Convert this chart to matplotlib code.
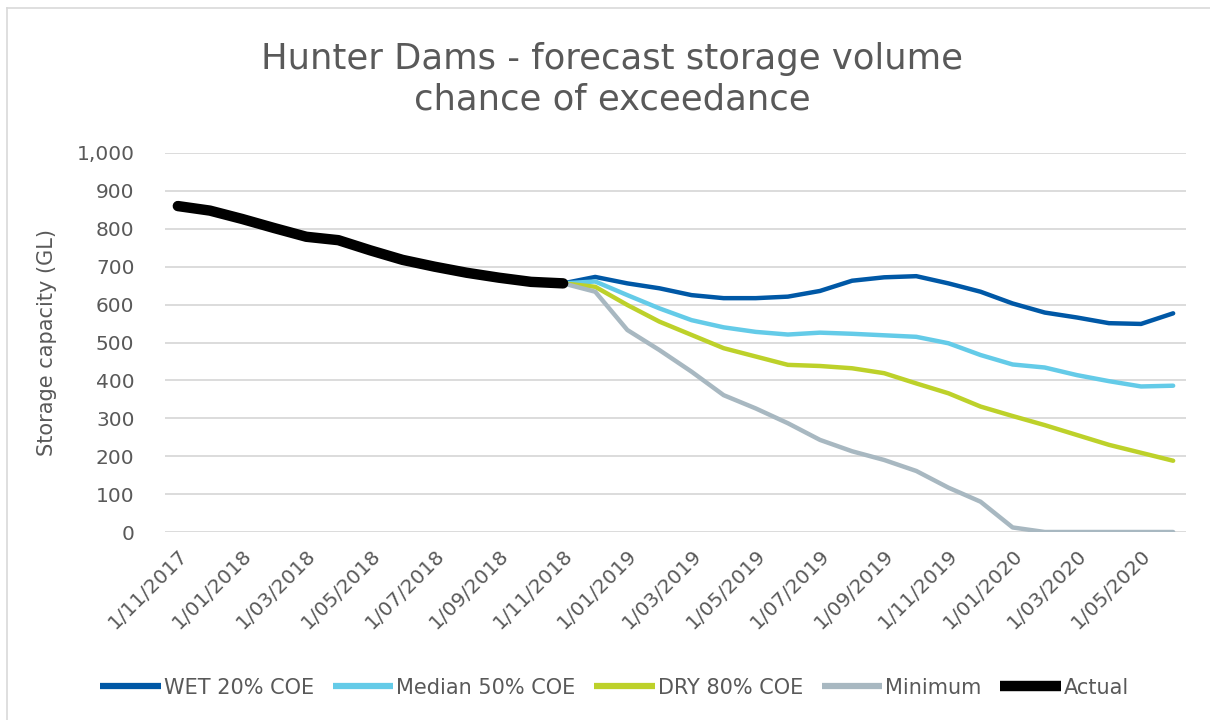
import matplotlib
matplotlib.use("Agg")
import matplotlib.pyplot as plt
from matplotlib.lines import Line2D

plt.rcParams['font.family'] = ['DejaVu Sans']

months = ["1/11/2017", "1/12/2017", "1/01/2018", "1/02/2018", "1/03/2018", "1/04/2018",
          "1/05/2018", "1/06/2018", "1/07/2018", "1/08/2018", "1/09/2018", "1/10/2018",
          "1/11/2018", "1/12/2018", "1/01/2019", "1/02/2019", "1/03/2019", "1/04/2019",
          "1/05/2019", "1/06/2019", "1/07/2019", "1/08/2019", "1/09/2019", "1/10/2019",
          "1/11/2019", "1/12/2019", "1/01/2020", "1/02/2020", "1/03/2020", "1/04/2020",
          "1/05/2020", "1/06/2020"]

actual = [860, 848, 826, 802, 779, 770, 743, 718, 700, 684, 671, 660, 656]

wet = [656, 673, 656, 643, 625, 617, 617, 621, 636, 663, 672, 675, 656, 634, 603, 579, 566, 551, 549, 577]
median = [656, 661, 625, 590, 559, 540, 528, 521, 526, 523, 519, 515, 498, 467, 442, 434, 414, 398, 384, 386]
dry = [656, 647, 599, 555, 520, 485, 463, 441, 438, 432, 419, 392, 366, 331, 306, 282, 256, 230, 209, 188]
minimum = [656, 634, 533, 480, 423, 361, 326, 287, 243, 213, 190, 161, 117, 80, 12, 0, 0, 0, 0, 0]

series_names = ["WET 20% COE", "Median 50% COE", "DRY 80% COE", "Minimum", "Actual"]
colors = ["#0058A6", "#64CBE8", "#BDD12A", "#A8B8C1", "#000000"]

text_color = "#595959"
grid_color = "#D9D9D9"

fig = plt.figure(figsize=(12.10, 7.20), dpi=100)
ax = fig.add_axes([165/1210, 1-532/720, (1186-165)/1210, (532-153)/720])

x_all = list(range(len(months)))
start = len(actual) - 1
xf = x_all[start:start + len(wet)]

forecasts = [wet, median, dry, minimum]
for vals, c in zip(forecasts, colors[:4]):
    ax.plot(xf, vals, color=c, lw=3.2, solid_capstyle='round', solid_joinstyle='round')
ax.plot(x_all[:len(actual)], actual, color=colors[4], lw=7.5, solid_capstyle='round',
        solid_joinstyle='round')

ax.set_xlim(-0.4, len(months) - 1 + 0.4)
ax.set_ylim(0, 1000)
ax.set_yticks(range(0, 1001, 100))
ax.set_yticklabels([f"{v:,}" for v in range(0, 1001, 100)])
ax.grid(axis='y', color=grid_color, lw=1.3)
ax.set_axisbelow(True)
for s in ax.spines.values():
    s.set_visible(False)
ax.tick_params(axis='both', length=0, colors=text_color, labelsize=14.5)
ax.tick_params(axis='y', pad=22)

tick_idx = x_all[::2]
ax.set_xticks(tick_idx)
ax.set_xticklabels([months[i] for i in tick_idx], rotation=45, ha='right',
                   rotation_mode='anchor', va='top')
ax.tick_params(axis='x', pad=10)

ax.set_ylabel("Storage capacity (GL)", color=text_color, fontsize=15, labelpad=14)

fig.text(0.506, 0.942, "Hunter Dams - forecast storage volume\nchance of exceedance",
         ha='center', va='top', fontsize=25.5, color=text_color, linespacing=1.25)

handles = [Line2D([0], [0], color=c, lw=(7.5 if i == 4 else 4.5), solid_capstyle='butt')
           for i, c in enumerate(colors)]
fig.legend(handles, series_names, loc='center', bbox_to_anchor=(0.508, 0.045), ncol=5,
           frameon=False, fontsize=15, labelcolor=text_color, handlelength=2.9,
           handletextpad=0.15, columnspacing=0.9)

# chart border
fig.add_artist(Line2D([7/1210, 7/1210], [0, 1 - 8/720], transform=fig.transFigure,
                      color=grid_color, lw=1.2))
fig.add_artist(Line2D([7/1210, 1], [1 - 8/720, 1 - 8/720], transform=fig.transFigure,
                      color=grid_color, lw=1.2))

fig.savefig("out.png", dpi=100)
